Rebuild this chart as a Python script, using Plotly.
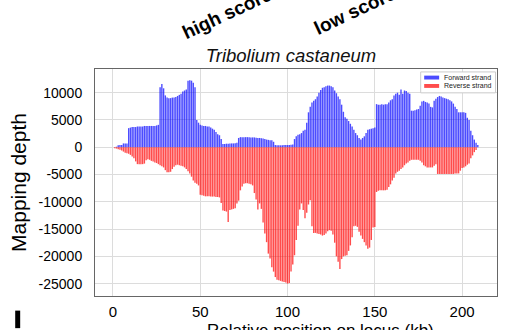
import plotly.graph_objects as go

# Window index along the locus
positions = list(range(1, 210))

# Forward-strand mapping depth per window
forward_depth = [
    0, 100, 350, 400, 400, 700, 700, 700, 3500, 3600,
    3700, 3700, 3700, 3800, 3800, 3800, 3800, 3900, 3900, 3900,
    3900, 3900, 3900, 3900, 4000, 4100, 11000, 11600, 10800, 9500,
    9100, 9000, 9000, 9100, 9100, 9200, 9400, 9600, 9800, 10200,
    10400, 10600, 12200, 12300, 12200, 11800, 11000, 5000, 4500, 4100,
    4000, 3900, 3900, 3800, 3800, 3600, 3400, 3200, 2800, 2400,
    2200, 1500, 600, 600, 650, 650, 700, 700, 700, 750,
    800, 1700, 1850, 1850, 1850, 1850, 1850, 1850, 1800, 1800,
    1800, 1750, 1700, 1700, 1650, 1600, 1500, 1400, 1350, 1300,
    1300, 1000, 400, 350, 350, 350, 350, 400, 400, 400,
    400, 450, 500, 1500, 2000, 2300, 2400, 2600, 3000, 3200,
    4500, 6400, 7400, 8200, 8500, 8800, 9300, 10000, 10500, 10900,
    11000, 11200, 11300, 11300, 11200, 11000, 10400, 9900, 9300, 8800,
    7800, 6500, 5500, 5200, 4800, 4300, 3800, 3200, 2600, 2200,
    1700, 1400, 1700, 2000, 2600, 3200, 3300, 3400, 3500, 3600,
    7900, 7800, 7800, 7900, 7800, 7900, 7900, 8200, 8600, 8800,
    9500, 9800, 10000, 9600, 10600, 9800, 10400, 10300, 10000, 9800,
    6700, 6700, 6800, 6900, 7000, 7600, 8400, 8500, 8300, 8200,
    8000, 7400, 7300, 8500, 8900, 9200, 9400, 9300, 9100, 9000,
    8900, 8800, 8600, 8400, 8000, 7400, 7000, 6400, 6400, 6400,
    6400, 6300, 5400, 5000, 3000, 2200, 1400, 800, 400,
]

# Reverse-strand mapping depth per window (plotted below zero)
reverse_depth = [
    -200, -250, -350, -450, -600, -800, -1000, -1100, -1200, -1400,
    -1700, -2000, -2600, -3100, -3100, -3100, -3100, -3000, -2400, -2200,
    -2300, -2500, -2600, -2800, -2900, -3100, -3300, -3500, -3700, -4200,
    -4600, -4600, -4500, -4000, -3600, -3300, -3200, -3300, -3400, -3500,
    -3700, -4000, -4400, -4800, -5400, -6100, -6500, -6700, -7000, -8700,
    -8800, -8900, -9000, -9000, -9000, -9050, -9050, -9050, -9100, -9100,
    -9200, -10200, -11600, -11700, -11800, -13700, -11500, -11400, -11300, -11200,
    -10300, -9800, -7900, -7200, -6700, -6600, -6600, -6700, -6800, -7000,
    -8400, -9600, -11400, -10300, -11300, -13800, -15800, -17400, -19500, -20400,
    -22000, -22800, -23800, -24300, -24400, -24500, -24600, -24700, -24800, -25000,
    -24900, -22800, -21500, -19800, -17000, -14400, -11400, -10300, -11500, -13000,
    -12000, -10500, -9700, -14500, -15700, -15700, -15800, -15900, -16000, -16200,
    -16100, -15800, -15400, -15200, -15300, -16000, -17500, -20000, -21000, -22300,
    -20500, -20000, -19900, -19800, -19000, -18000, -16500, -14500, -14400, -14600,
    -15500, -16200, -16800, -17400, -18000, -18600, -18400, -17000, -14700, -14600,
    -8200, -8000, -7900, -7900, -7900, -7900, -7800, -7300, -6800, -6100,
    -5600, -4800, -4500, -4300, -4000, -3700, -3300, -3000, -2800, -2500,
    -2300, -2300, -2300, -2300, -2300, -2500, -2800, -3300, -3500, -3700,
    -3700, -3700, -3700, -3400, -3100, -4900, -4900, -4900, -4900, -4900,
    -4900, -4900, -4900, -4900, -4900, -4800, -4800, -4800, -4300, -3800,
    -3700, -3500, -3200, -3000, -2000, -1500, -900, -500, 0,
]

series_names = ["Forward strand", "Reverse strand"]
series_colors = ["rgba(0,0,255,0.7)", "rgba(255,0,0,0.7)"]

x_ticks = [0, 50, 100, 150, 200]
y_ticks = [10000, 5000, 0, -5000, -10000, -15000, -20000, -25000]
y_tick_text = [str(v) for v in y_ticks]  # plain hyphen-minus labels

FONT = "Liberation Sans, Arial, sans-serif"

# Plot-area geometry in pixels, used to place the surrounding decorations
L, R, T, B = 95, 498, 69, 302
W_IMG, H_IMG = 508, 330


def px(xp):
    return (xp - L) / (R - L)


def py(yp):
    return (B - yp) / (B - T)


fig = go.Figure()
for name, vals, col in zip(series_names, [forward_depth, reverse_depth], series_colors):
    fig.add_trace(go.Bar(
        x=positions, y=vals, name=name,
        marker=dict(color=col, line=dict(width=0)),
        showlegend=False,
    ))

fig.update_layout(
    width=W_IMG, height=H_IMG,
    margin=dict(l=L, r=W_IMG - R, t=T, b=H_IMG - B),
    paper_bgcolor="white", plot_bgcolor="white",
    barmode="relative", bargap=0.2,
    font=dict(family=FONT, color="black"),
    showlegend=False,
    title=dict(
        text="<i>Tribolium castaneum</i>",
        x=291 / W_IMG, xanchor="center",
        y=1 - 56 / H_IMG, yanchor="middle",
        font=dict(size=18.5, family=FONT, color="#111"),
    ),
)

fig.update_xaxes(
    range=[-10.3, 220], tickvals=x_ticks,
    tickfont=dict(size=15, family=FONT),
    showgrid=True, gridcolor="#dcdcdc", gridwidth=1,
    zeroline=False, showline=True, linecolor="#666", linewidth=1, mirror=True,
    ticks="", ticklabelstandoff=2,
)
fig.update_yaxes(
    range=[-27270, 14340], tickvals=y_ticks, ticktext=y_tick_text,
    tickfont=dict(size=14, family=FONT),
    showgrid=True, gridcolor="#dcdcdc", gridwidth=1,
    zeroline=False, showline=True, linecolor="#666", linewidth=1, mirror=True,
    ticks="", ticklabelstandoff=9,
    title=dict(text="Mapping depth", font=dict(size=21, family=FONT), standoff=6),
)

# Compact legend box in the upper-right corner
fig.add_shape(
    type="rect", xref="paper", yref="paper",
    x0=px(421.5), x1=px(496.5), y0=py(93.5), y1=py(72),
    fillcolor="white", line=dict(color="#cccccc", width=1), layer="above",
)
for i, (name, col) in enumerate(zip(series_names, series_colors)):
    yc = 77.8 + i * 8.6
    fig.add_shape(
        type="rect", xref="paper", yref="paper",
        x0=px(425), x1=px(440), y0=py(yc + 2), y1=py(yc - 2),
        fillcolor=col, line=dict(width=0), layer="above",
    )
    fig.add_annotation(
        text=name, xref="paper", yref="paper",
        x=px(444), y=py(yc), xanchor="left", yanchor="middle",
        showarrow=False, font=dict(size=7, family=FONT, color="#222"),
        borderpad=0,
    )

# Rotated column headers above the panel
fig.add_annotation(
    text="<b>high score</b>", xref="paper", yref="paper",
    x=px(227), y=py(12), showarrow=False,
    textangle=-25, font=dict(size=19, family=FONT, color="black"),
    xanchor="center", yanchor="middle",
)
fig.add_annotation(
    text="<b>low score</b>", xref="paper", yref="paper",
    x=px(356), y=py(9), showarrow=False,
    textangle=-25, font=dict(size=19, family=FONT, color="black"),
    xanchor="center", yanchor="middle",
)

# Axis caption running off the bottom edge
fig.add_annotation(
    text="Relative position on locus (kb)", xref="paper", yref="paper",
    x=px(321), y=py(327), showarrow=False,
    font=dict(size=17, family=FONT, color="black"),
    xanchor="center", yanchor="top", borderpad=0,
)

# Next panel's label, cut by the lower edge
fig.add_shape(
    type="rect", xref="paper", yref="paper",
    x0=px(15), x1=px(20), y0=py(335), y1=py(317),
    fillcolor="black", line=dict(width=0),
)

fig.write_html("out.html")
